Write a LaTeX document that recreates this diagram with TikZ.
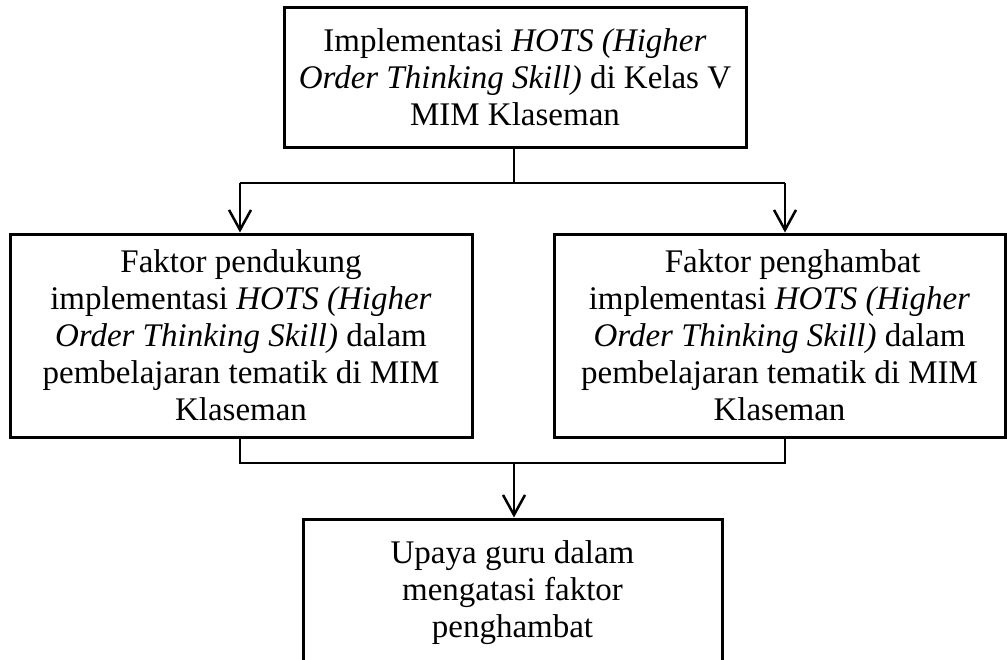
\documentclass[tikz,border=0pt]{standalone}
\usepackage{fontspec}
\setmainfont{Liberation Serif}
\usetikzlibrary{arrows.meta, calc}

\begin{document}
\begin{tikzpicture}[x=1pt, y=-1pt,
	box/.style={draw, line width=3pt, align=center, inner sep=0pt,
		font=\fontsize{33}{37}\selectfont},
	garis/.style={line width=2.5pt},
	panah/.style={garis, -{Straight Barb[length=20pt, width=22pt]}}]
	%    page size of the reference
	
	\useasboundingbox (0,0) rectangle (1007,659);
	\clip (0,0) rectangle (1007,659);
	
	\node[box, minimum width=462pt, minimum height=140pt] (implementasi) at (515,77)
	{Implementasi \textit{HOTS (Higher}\\
		\textit{Order Thinking Skill)} di Kelas V\\
		MIM Klaseman};
	
	\node[box, minimum width=462pt, minimum height=203pt] (pendukung) at (241,335.5)
	{Faktor pendukung\\
		implementasi \textit{HOTS (Higher}\\
		\textit{Order Thinking Skill)} dalam\\
		pembelajaran tematik di MIM\\
		Klaseman};
	
	\node[box, minimum width=451pt, minimum height=203pt] (penghambat) at (779.5,335.5)
	{\hspace*{0.8em}Faktor penghambat\\
		implementasi \textit{HOTS (Higher}\\
		\textit{Order Thinking Skill)} dalam\\
		pembelajaran tematik di MIM\\
		Klaseman};
	
	\node[box, minimum width=419pt, minimum height=148pt] (upaya) at (512.5,593)
	{Upaya guru dalam\\
		mengatasi faktor\\
		penghambat};
	
	% branch points
	\coordinate (kiri) at (240,183);
	\coordinate (kanan) at (785,183);
	\coordinate (gabung) at (514,463);
	
	\draw[garis] (implementasi.south -| gabung) -- (gabung |- kiri);
	\draw[garis] (kiri) -- (kanan);
	\draw[panah] (kiri) -- (kiri |- pendukung.north);
	\draw[panah] (kanan) -- (kanan |- penghambat.north);
	
	\draw[garis] (kiri |- pendukung.south) |- (gabung) -| (kanan |- penghambat.south);
	\draw[panah] (gabung) -- (upaya.north -| gabung);
	
\end{tikzpicture}
\end{document}
